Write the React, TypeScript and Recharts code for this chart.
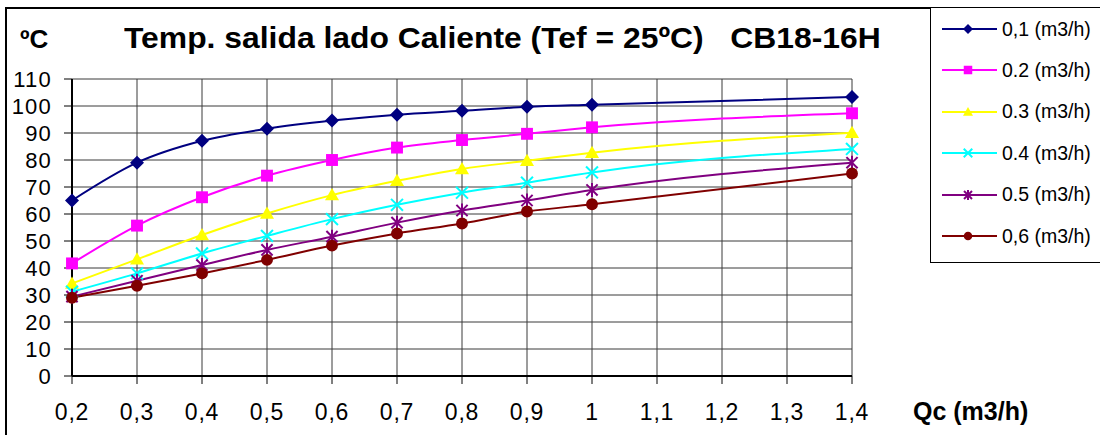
import React from 'react';
import { LineChart, Line, XAxis, YAxis, CartesianGrid } from 'recharts';

// caudal lado caliente Qc (m3/h)
const qc = [0.2, 0.3, 0.4, 0.5, 0.6, 0.7, 0.8, 0.9, 1.0, 1.4];
const xTicks = [0.2, 0.3, 0.4, 0.5, 0.6, 0.7, 0.8, 0.9, 1.0, 1.1, 1.2, 1.3, 1.4];
const yTicks = [0, 10, 20, 30, 40, 50, 60, 70, 80, 90, 100, 110];

// temperatura de salida (ºC) para cada caudal del lado frío
const t01 = [65, 79, 87.1, 91.6, 94.6, 96.8, 98.2, 99.7, 100.5, 103.3];
const t02 = [41.7, 55.7, 66.2, 74.2, 80, 84.6, 87.4, 89.7, 92.1, 97.3];
const t03 = [34.3, 43.2, 52.2, 60.2, 67, 72.3, 76.7, 79.7, 82.7, 90.1];
const t04 = [31.2, 38, 45.4, 51.9, 58.1, 63.4, 67.9, 71.6, 75.4, 84.1];
const t05 = [29.4, 35.3, 41.1, 46.7, 51.6, 56.8, 61.3, 65, 68.9, 79];
const t06 = [29, 33.4, 38, 43, 48.3, 52.8, 56.5, 60.9, 63.6, 75];

const seriesNames = ['0,1 (m3/h)', '0.2 (m3/h)', '0.3 (m3/h)', '0.4 (m3/h)', '0.5 (m3/h)', '0,6 (m3/h)'];
const seriesColors = ['#000080', '#FF00FF', '#FFFF00', '#00FFFF', '#800080', '#800000'];
const seriesMarkers = ['diamond', 'square', 'triangle', 'x', 'star', 'circle'];
const seriesValues = [t01, t02, t03, t04, t05, t06];

const data = qc.map((x, i) => {
  const row: any = { qc: x };
  seriesValues.forEach((vals, s) => {
    row['s' + s] = vals[i];
  });
  return row;
});

const FONT = '"Liberation Sans", Arial, sans-serif';

const Marker = ({ kind, cx, cy, color, s }: any) => {
  switch (kind) {
    case 'diamond':
      return <path d={`M${cx},${cy - s} L${cx + s},${cy} L${cx},${cy + s} L${cx - s},${cy} Z`} fill={color} />;
    case 'square':
      return <rect x={cx - s * 0.85} y={cy - s * 0.85} width={s * 1.7} height={s * 1.7} fill={color} />;
    case 'triangle':
      return <path d={`M${cx},${cy - s} L${cx + s},${cy + s * 0.75} L${cx - s},${cy + s * 0.75} Z`} fill={color} />;
    case 'x':
      return (
        <g stroke={color} strokeWidth={2}>
          <line x1={cx - s * 0.85} y1={cy - s * 0.85} x2={cx + s * 0.85} y2={cy + s * 0.85} />
          <line x1={cx - s * 0.85} y1={cy + s * 0.85} x2={cx + s * 0.85} y2={cy - s * 0.85} />
        </g>
      );
    case 'star':
      return (
        <g stroke={color} strokeWidth={2}>
          <line x1={cx - s * 0.8} y1={cy - s * 0.8} x2={cx + s * 0.8} y2={cy + s * 0.8} />
          <line x1={cx - s * 0.8} y1={cy + s * 0.8} x2={cx + s * 0.8} y2={cy - s * 0.8} />
          <line x1={cx} y1={cy - s} x2={cx} y2={cy + s} />
        </g>
      );
    default:
      return <circle cx={cx} cy={cy} r={s * 0.85} fill={color} />;
  }
};

const fmtTick = (v: number) => String(Math.round(v * 10) / 10).replace('.', ',');

export default function App() {
  return (
    <div
      style={{
        position: 'absolute',
        left: 0,
        top: 0,
        width: 1100,
        height: 435,
        overflow: 'hidden',
        background: '#fff',
        fontFamily: FONT,
      }}
    >
      {/* marco del gráfico */}
      <div
        style={{
          position: 'absolute',
          left: 5,
          top: 7,
          width: 1120,
          height: 460,
          border: '2px solid #000',
          boxSizing: 'border-box',
        }}
      />

      <LineChart
        width={1100}
        height={435}
        data={data}
        margin={{ top: 79, right: 248, bottom: 0, left: 0 }}
        style={{ position: 'absolute', left: 0, top: 0 }}
      >
        <CartesianGrid stroke="#3a3a3a" strokeWidth={1} />
        <XAxis
          dataKey="qc"
          type="number"
          domain={[0.2, 1.4]}
          ticks={xTicks}
          interval={0}
          tickFormatter={fmtTick}
          height={59}
          tickSize={8}
          tickMargin={20}
          axisLine={{ stroke: '#000', strokeWidth: 2 }}
          tickLine={{ stroke: '#000' }}
          tick={{ fontSize: 23, fill: '#000', fontFamily: FONT, letterSpacing: 0.8 }}
        />
        <YAxis
          domain={[0, 110]}
          ticks={yTicks}
          interval={0}
          width={72}
          tickSize={8}
          tickMargin={12}
          axisLine={{ stroke: '#000', strokeWidth: 2 }}
          tickLine={{ stroke: '#000' }}
          tick={{ fontSize: 22, fill: '#000', fontFamily: FONT, letterSpacing: 1.2 }}
        />
        {seriesNames.map((name, s) => (
          <Line
            key={name}
            name={name}
            dataKey={'s' + s}
            type="monotone"
            stroke={seriesColors[s]}
            strokeWidth={2}
            isAnimationActive={false}
            activeDot={false}
            dot={(p: any) => (
              <Marker key={p.index} kind={seriesMarkers[s]} cx={p.cx} cy={p.cy} color={seriesColors[s]} s={7} />
            )}
          />
        ))}
      </LineChart>

      {/* títulos */}
      <div
        style={{
          position: 'absolute',
          left: 20,
          top: 26,
          fontSize: 26,
          lineHeight: '26px',
          fontWeight: 'bold',
        }}
      >
        ºC
      </div>
      <div
        style={{
          position: 'absolute',
          left: 124,
          top: 23,
          fontSize: 30,
          lineHeight: '30px',
          fontWeight: 'bold',
          whiteSpace: 'pre',
          transform: 'scaleX(1.062)',
          transformOrigin: 'left top',
        }}
      >
        {'Temp. salida lado Caliente (Tef = 25ºC)   CB18-16H'}
      </div>
      <div
        style={{
          position: 'absolute',
          left: 913,
          top: 399,
          fontSize: 25,
          lineHeight: '25px',
          fontWeight: 'bold',
          whiteSpace: 'pre',
        }}
      >
        Qc (m3/h)
      </div>

      {/* leyenda */}
      <div
        style={{
          position: 'absolute',
          left: 930,
          top: 7,
          width: 200,
          height: 256,
          border: '1px solid #000',
          background: '#fff',
          boxSizing: 'border-box',
        }}
      />
      {seriesNames.map((name, s) => {
        const cy = 29 + s * 41.4;
        return (
          <div
            key={name}
            style={{
              position: 'absolute',
              left: 940,
              top: cy - 12,
              height: 24,
              display: 'flex',
              alignItems: 'center',
              whiteSpace: 'pre',
            }}
          >
            <svg width={60} height={24}>
              <line x1={2} y1={12} x2={57} y2={12} stroke={seriesColors[s]} strokeWidth={2} />
              <Marker kind={seriesMarkers[s]} cx={28} cy={12} color={seriesColors[s]} s={5} />
            </svg>
            <span style={{ fontSize: 19.5, marginLeft: 2 }}>{name}</span>
          </div>
        );
      })}
    </div>
  );
}
